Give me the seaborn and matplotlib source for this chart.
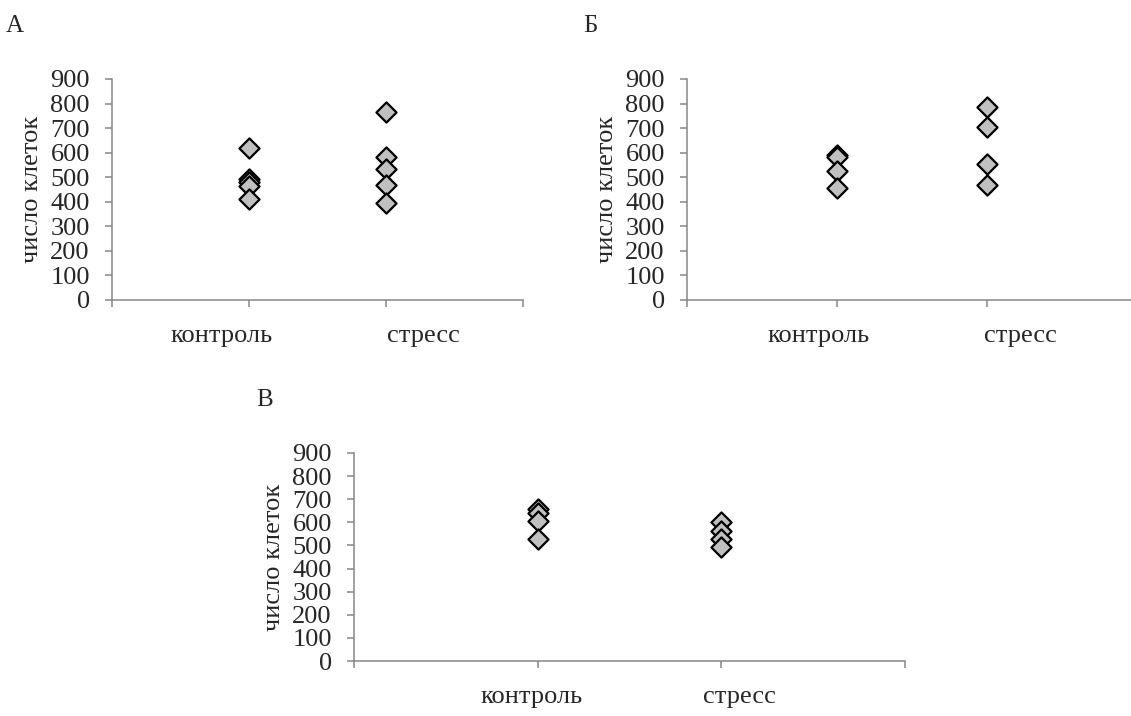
import numpy as np
import pandas as pd
import seaborn as sns
import matplotlib
matplotlib.use("Agg")
import matplotlib.pyplot as plt

sns.set_style("white")
plt.rcParams['font.family'] = ['Liberation Serif', 'DejaVu Serif']

# ---- data ----
categories = ["контроль", "стресс"]
panel_titles = ["А", "Б", "В"]
y_label = "число клеток"
y_ticks = [0, 100, 200, 300, 400, 500, 600, 700, 800, 900]

a_control = [619, 494, 481, 466, 411]
a_stress = [767, 581, 532, 468, 393]
b_control = [590, 582, 525, 455]
b_stress = [784, 706, 552, 468]
c_control = [656, 640, 605, 527]
c_stress = [600, 563, 528, 494]

panels = [(a_control, a_stress), (b_control, b_stress), (c_control, c_stress)]

# ---- layout (figure fractions) ----
W, H = 1131, 716
fig = plt.figure(figsize=(W / 100, H / 100), dpi=100)
axes_px = [(112, 79, 523, 300), (687, 79, 1137, 300), (354, 453, 904.5, 661)]
title_px = [(15, 26), (590, 26), (265, 400)]
label_x = [(0.80, 2.27), (0.88, 2.22), (0.97, 2.10)]

grey = "#868686"
for i, ((ctrl, strs), (x0, y0, x1, y1)) in enumerate(zip(panels, axes_px)):
    ax = fig.add_axes([x0 / W, 1 - y1 / H, (x1 - x0) / W, (y1 - y0) / H])
    df = pd.DataFrame({
        "x": [1] * len(ctrl) + [2] * len(strs),
        "y": list(ctrl) + list(strs),
    })
    sns.scatterplot(data=df, x="x", y="y", ax=ax, marker="D", s=105,
                    color="#c0c0c0", edgecolor="black", linewidth=1.6,
                    zorder=3, clip_on=False)
    ax.set_xlim(0, 3)
    ax.set_ylim(0, 900)
    ax.set_yticks(y_ticks)
    ax.set_yticklabels([str(t) for t in y_ticks], fontsize=19)
    ax.set_xticks([0, 1, 2, 3])
    ax.set_xticklabels([])
    for s in ["top", "right"]:
        ax.spines[s].set_visible(False)
    for s in ["left", "bottom"]:
        ax.spines[s].set_color(grey)
        ax.spines[s].set_linewidth(1.1)
    ax.tick_params(axis="y", direction="out", length=5, width=1.1, color=grey,
                   pad=11, left=True)
    ax.tick_params(axis="x", direction="out", length=5, width=1.1, color=grey,
                   bottom=True)
    ax.set_xlabel("")
    ax.set_ylabel(y_label, fontsize=19, labelpad=5)
    tr = matplotlib.transforms.blended_transform_factory(ax.transData, ax.transAxes)
    for cx, name in zip(label_x[i], categories):
        ax.text(cx, -36 / (y1 - y0), name, transform=tr, ha="center",
                va="center", fontsize=19)
    tx, ty = title_px[i]
    fig.text(tx / W, 1 - ty / H, panel_titles[i], ha="center", va="center",
             fontsize=18)

fig.savefig("out.png", dpi=100)
